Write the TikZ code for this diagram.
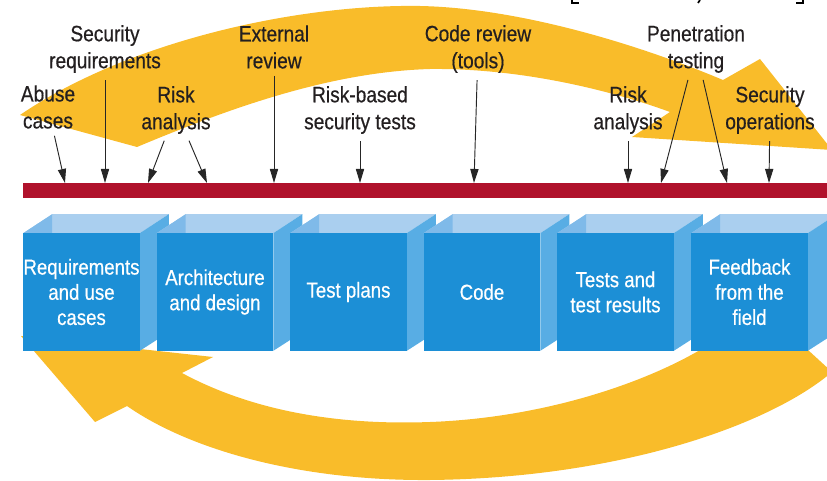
\documentclass[tikz,border=0pt]{standalone}
\usepackage{fontspec}
\setmainfont{Liberation Sans}[FakeStretch=0.86,FakeBold=0.5]
\usetikzlibrary{arrows.meta,backgrounds}
\definecolor{bandyellow}{RGB}{249,188,42}
\definecolor{barred}{RGB}{176,18,44}
\definecolor{boxfront}{RGB}{28,143,214}
\definecolor{boxside}{RGB}{88,173,228}
\definecolor{boxtop}{RGB}{170,207,239}
\definecolor{boxinner}{RGB}{127,186,233}
\definecolor{labeltext}{RGB}{35,31,32}

\begin{document}
\begin{tikzpicture}[x=0.03cm,y=-0.03cm,>={Triangle[length=12pt,width=7pt]},
  label node/.style={align=center,text=labeltext,font=\fontsize{19}{23}\selectfont,inner sep=1pt},
  cube/.style={rectangle,fill=boxfront,text=white,align=center,minimum width=99.5pt,minimum height=100.4pt,inner sep=0pt,outer sep=0pt,font=\fontsize{18.5}{21.5}\selectfont},
  pointer/.style={->,draw=black!85,line width=0.8pt,shorten <=5pt}]
  \useasboundingbox (0,0) rectangle (827,481);

  % stages
  \node[cube] (b1) at (81.5,292) {Requirements\\and use\\cases};
  \node[cube] (b2) at (215,292) {Architecture\\and design};
  \node[cube] (b3) at (348.5,292) {Test plans};
  \node[cube] (b4) at (482,292) {Code};
  \node[cube] (b5) at (615.5,292) {Tests and\\test results};
  \node[cube] (b6) at (749.5,292) {Feedback\\from the\\field};

  % touchpoints
  \node[label node] (1) at (48,107) {Abuse\\cases};
  \node[label node] (2) at (105,49) {Security\\requirements};
  \node[label node] (3) at (176,110) {Risk\\analysis};
  \node[label node] (4) at (274,47) {External\\review};
  \node[label node] (5) at (360,110) {Risk-based\\security tests};
  \node[label node] (6) at (478,49) {Code review\\(tools)};
  \node[label node] (7) at (628,110) {Risk\\analysis};
  \node[label node] (8) at (696,49) {Penetration\\testing};
  \node[label node] (9) at (770,110) {Security\\operations};

  \fill[barred] (23,183) rectangle (830,198);

  \coordinate (e1) at (65,183);
  \coordinate (e2) at (105,183);
  \coordinate (e3a) at (148,183);
  \coordinate (e3b) at (207,183);
  \coordinate (e4) at (274,183);
  \coordinate (e5) at (360,183);
  \coordinate (e6) at (474,183);
  \coordinate (e7) at (628,183);
  \coordinate (e8a) at (661,183);
  \coordinate (e8b) at (727,183);
  \coordinate (e9) at (769,183);

\path[every edge/.style={pointer}]
  (1) edge (e1)
  (2) edge (e2)
  (3) edge (e3a)
  (3) edge (e3b)
  (4) edge (e4)
  (5) edge (e5)
  (6) edge (e6)
  (7) edge (e7)
  (8) edge (e8a)
  (8) edge (e8b)
  (9) edge (e9)
;

  % cut-off caption above
  \draw[line width=1.5pt] (572,0) -- (572,3) -- (579,3);
  \draw[line width=1.5pt] (803,0) -- (803,3) -- (796,3);
  \draw[line width=1.5pt] (700,0) -- (698,3);

  \begin{pgfonlayer}{background}
  % feedback loops
  \fill[bandyellow] (20,115) -- (137,147) .. controls (230,108) and (330,72) .. (430,69)
    .. controls (520,68) and (610,90) .. (670,112) -- (632,137) -- (832,150) -- (760,59) -- (723,80)
    .. controls (640,45) and (520,8) .. (420,6) .. controls (300,4) and (130,40) .. (20,115) -- cycle;
  \fill[bandyellow] (21,336) -- (213,357) -- (182,373) .. controls (260,415) and (350,425) .. (430,422)
    .. controls (540,418) and (640,385) .. (700,350) -- (808,350) -- (832,372)
    .. controls (770,425) and (620,478) .. (430,480) .. controls (300,481) and (190,450) .. (127,406)
    -- (95,422) -- cycle;
  \foreach \b in {b1,b2,b3,b4,b5,b6} {
    \fill[boxtop] (\b.north west) -- ++(29,-19) -- ([shift={(29,-19)}]\b.north east) -- (\b.north east) -- cycle;
    \fill[boxinner] (\b.north west) -- ++(29,-19) -- ++(0,19) -- cycle;
    \fill[boxside] (\b.north east) -- ++(29,-19) -- ++(0,118) -- (\b.south east) -- cycle;
  }
  \end{pgfonlayer}
\end{tikzpicture}
\end{document}
